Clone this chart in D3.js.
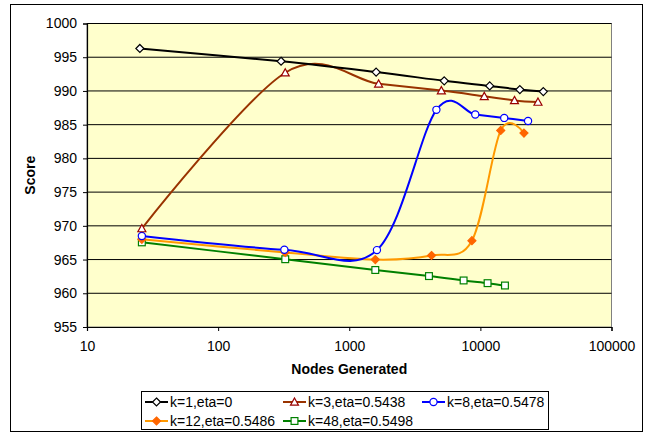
<!DOCTYPE html>
<html>
<head>
<meta charset="utf-8">
<script src="https://cdn.jsdelivr.net/npm/d3@7"></script>
<style>
  body { margin: 0; background: #fff; }
  text { font-family: "Liberation Sans", Arial, sans-serif; }
</style>
</head>
<body>
<script>
// data
var seriesNames = ["k=1,eta=0", "k=3,eta=0.5438", "k=8,eta=0.5478", "k=12,eta=0.5486", "k=48,eta=0.5498"];

var k1x = [25.3, 302, 1603, 5300, 11780, 20000, 30200];
var k1y = [996.3, 994.4, 992.8, 991.5, 990.75, 990.2, 989.9];

var k3x = [26.2, 325, 1674, 5040, 10710, 18200, 27500];
var k3y = [969.6, 992.7, 991.05, 990.05, 989.2, 988.6, 988.35];

var k8x = [26.2, 320, 1626, 4620, 9140, 15200, 23100];
var k8y = [968.5, 966.45, 966.4, 987.2, 986.5, 986.0, 985.55];

var k12x = [26.2, 325, 1580, 4240, 8620, 14300, 21500];
var k12y = [968.0, 966.05, 965.0, 965.6, 967.8, 984.15, 983.75];

var k48x = [26.2, 325, 1580, 4055, 7450, 11350, 15400];
var k48y = [967.55, 965.05, 963.45, 962.55, 961.9, 961.5, 961.15];

var xTicks = [10, 100, 1000, 10000, 100000];
var yTicks = [955, 960, 965, 970, 975, 980, 985, 990, 995, 1000];

var W = 647, H = 434;
var pLeft = 87, pRight = 611.5, pTop = 23.5, pBottom = 327;

var series = [
  {name: seriesNames[0], xs: k1x, ys: k1y, line: "#000000", stroke: "#000000", fill: "#ffffff", shape: "diamond"},
  {name: seriesNames[1], xs: k3x, ys: k3y, line: "#993300", stroke: "#990000", fill: "#ffffff", shape: "triangle"},
  {name: seriesNames[2], xs: k8x, ys: k8y, line: "#0000ff", stroke: "#0000ff", fill: "#ffffff", shape: "circle"},
  {name: seriesNames[3], xs: k12x, ys: k12y, line: "#ff9900", stroke: "#ff6600", fill: "#ff6600", shape: "diamond"},
  {name: seriesNames[4], xs: k48x, ys: k48y, line: "#008000", stroke: "#008000", fill: "#ffffff", shape: "square"}
];

var svg = d3.select("body").append("svg")
    .attr("width", W)
    .attr("height", H);

// outer chart border
svg.append("rect")
    .attr("x", 10.5).attr("y", 4.5)
    .attr("width", 632).attr("height", 427)
    .attr("fill", "#fff").attr("stroke", "#000").attr("stroke-width", 1);

var x = d3.scaleLog().domain([10, 100000]).range([pLeft, pRight]);
var y = d3.scaleLinear().domain([955, 1000]).range([pBottom, pTop]);

// plot area
svg.append("rect")
    .attr("x", pLeft).attr("y", pTop)
    .attr("width", pRight - pLeft).attr("height", pBottom - pTop)
    .attr("fill", "#ffffcc").attr("stroke", "#808080").attr("stroke-width", 1);

// gridlines
svg.append("g").selectAll("line")
    .data(yTicks.filter(function(d) { return d > 955; }))
    .enter().append("line")
    .attr("x1", pLeft).attr("x2", pRight)
    .attr("y1", function(d) { return y(d); })
    .attr("y2", function(d) { return y(d); })
    .attr("stroke", "#000").attr("stroke-width", 1);

// axes
var yAxis = svg.append("g")
    .attr("transform", "translate(" + pLeft + ",0)")
    .call(d3.axisLeft(y).tickValues(yTicks).tickFormat(d3.format("d")).tickSize(4).tickPadding(6));
var xAxis = svg.append("g")
    .attr("transform", "translate(0," + pBottom + ")")
    .call(d3.axisBottom(x).tickValues(xTicks).tickFormat(d3.format("d")).tickSize(4).tickPadding(10));

[xAxis, yAxis].forEach(function(a) {
    a.select(".domain").attr("stroke", "#000").attr("stroke-width", 1.2);
    a.selectAll(".tick line").attr("stroke", "#000");
    a.selectAll(".tick text")
        .attr("fill", "#000")
        .style("font-size", "14px")
        .style("font-family", "'Liberation Sans', Arial, sans-serif");
});

// axis titles
svg.append("text")
    .attr("x", (pLeft + pRight) / 2).attr("y", 374)
    .attr("text-anchor", "middle")
    .style("font-size", "14px").style("font-weight", "bold")
    .text("Nodes Generated");
svg.append("text")
    .attr("transform", "translate(35," + ((pTop + pBottom) / 2) + ") rotate(-90)")
    .attr("text-anchor", "middle")
    .style("font-size", "14px").style("font-weight", "bold")
    .text("Score");

var line = d3.line()
    .x(function(d) { return x(d[0]); })
    .y(function(d) { return y(d[1]); })
    .curve(d3.curveCardinal.tension(0));

function marker(g, shape, s) {
    if (shape == "diamond") {
        g.append("path").attr("d", "M0," + (-s) + "L" + s + ",0L0," + s + "L" + (-s) + ",0Z");
    } else if (shape == "triangle") {
        g.append("path").attr("d", "M0," + (-s) + "L" + s + "," + (s * 0.8) + "L" + (-s) + "," + (s * 0.8) + "Z");
    } else if (shape == "circle") {
        g.append("circle").attr("r", s * 0.9);
    } else {
        g.append("rect").attr("x", -s * 0.85).attr("y", -s * 0.85)
            .attr("width", s * 1.7).attr("height", s * 1.7);
    }
}

// draw series in reverse order so k=1 ends on top
series.slice().reverse().forEach(function(s) {
    var pts = s.xs.map(function(v, i) { return [v, s.ys[i]]; });
    svg.append("path")
        .datum(pts)
        .attr("d", line)
        .attr("fill", "none")
        .attr("stroke", s.line)
        .attr("stroke-width", 2);
    pts.forEach(function(p) {
        var g = svg.append("g")
            .attr("transform", "translate(" + x(p[0]) + "," + y(p[1]) + ")")
            .attr("fill", s.fill).attr("stroke", s.stroke).attr("stroke-width", 1.2);
        marker(g, s.shape, 4);
    });
});

// legend
svg.append("rect")
    .attr("x", 141.5).attr("y", 391.5)
    .attr("width", 407).attr("height", 38)
    .attr("fill", "#fff").attr("stroke", "#000").attr("stroke-width", 1);

var legPos = [[145, 402], [283, 402], [422, 402], [145, 421], [283, 421]];
series.forEach(function(s, i) {
    var lx = legPos[i][0], ly = legPos[i][1];
    svg.append("line")
        .attr("x1", lx).attr("x2", lx + 23)
        .attr("y1", ly).attr("y2", ly)
        .attr("stroke", s.line).attr("stroke-width", 2);
    var g = svg.append("g")
        .attr("transform", "translate(" + (lx + 11.5) + "," + ly + ")")
        .attr("fill", s.fill).attr("stroke", s.stroke).attr("stroke-width", 1.2);
    marker(g, s.shape, 4);
    svg.append("text")
        .attr("x", lx + 25).attr("y", ly + 5)
        .style("font-size", "14px")
        .text(s.name);
});
</script>
</body>
</html>
